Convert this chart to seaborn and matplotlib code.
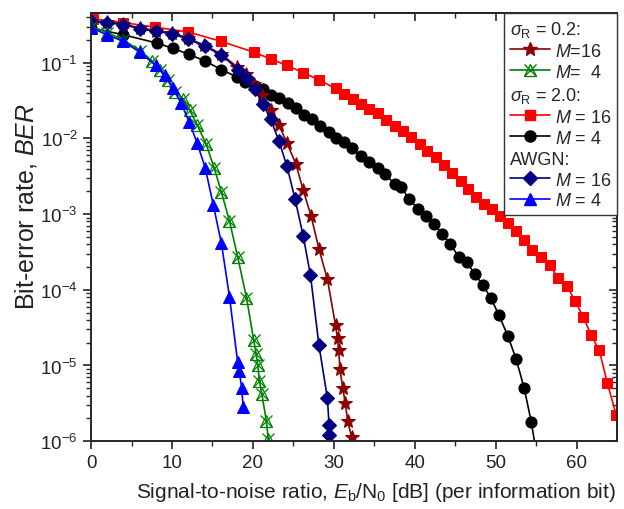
import numpy as np
import matplotlib
matplotlib.use("Agg")
import matplotlib.pyplot as plt
import seaborn as sns
from matplotlib.lines import Line2D

# BER curves (x = Eb/N0 in dB)
awgn4_x = [0, 2, 4, 6, 8, 9.1, 10.1, 11.1, 12.1, 13.1, 14.1, 15.1, 16.1, 17.1, 18.1, 18.3, 18.6, 18.8]
awgn4_y = [0.288, 0.234, 0.191, 0.138, 0.092, 0.068, 0.046, 0.0295, 0.0167, 8.7e-3, 4.1e-3,
           1.32e-3, 4.1e-4, 8.1e-5, 1.12e-5, 8.5e-6, 5.1e-6, 2.8e-6]

s02_m4_x = [0, 2, 4, 6, 7.5, 8.5, 9.5, 10.4, 11.4, 12.2, 13.1, 14.2, 15.2, 16.1, 17.1, 18.1,
            19.2, 20.1, 20.4, 20.6, 20.8, 21.1, 21.65, 21.9]
s02_m4_y = [0.30, 0.25, 0.20, 0.145, 0.105, 0.079, 0.059, 0.041, 0.033, 0.0234, 0.0151, 8.5e-3,
            4.1e-3, 1.95e-3, 8.1e-4, 2.75e-4, 7.9e-5, 2.14e-5, 1.41e-5, 1.0e-5, 6.2e-6, 4.2e-6,
            1.86e-6, 1.07e-6]

awgn16_x = [0, 2, 4, 6, 8, 10, 12, 14.1, 16.1, 18.2, 19.3, 20.2, 21.2, 22.2, 23.2, 24.2, 25.2,
            26.2, 27.1, 28.15, 29.2, 29.4, 29.45]
awgn16_y = [0.352, 0.338, 0.318, 0.282, 0.259, 0.242, 0.204, 0.164, 0.126, 0.081, 0.062, 0.0447,
            0.0288, 0.0178, 9.3e-3, 4.3e-3, 1.58e-3, 5.2e-4, 1.58e-4, 1.86e-5, 3.7e-6, 1.66e-6, 1.2e-6]

s02_m16_x = [0, 2, 4, 6, 8, 10, 12, 14, 16, 18, 19.1, 20.1, 21.1, 22.2, 23.2, 24.2, 25.3, 26.2,
             27.2, 28.15, 29.2, 30.2, 30.45, 30.6, 30.75, 31.1, 31.4, 31.7, 32.2]
s02_m16_y = [0.355, 0.343, 0.324, 0.288, 0.266, 0.248, 0.211, 0.170, 0.132, 0.089, 0.071, 0.0525,
             0.0372, 0.024, 0.0151, 8.7e-3, 4.6e-3, 2.09e-3, 9.3e-4, 3.47e-4, 1.38e-4, 3.4e-5,
             2.3e-5, 1.58e-5, 8.9e-6, 5.0e-6, 3.2e-6, 1.86e-6, 1.12e-6]

s20_m4_x = [0, 4, 8.1, 10.1, 12.1, 14.1, 16.1, 18.0, 19.05, 20.2, 21.2, 22.2, 23.2, 24.3, 25.3,
            26.3, 27.3, 28.3, 29.4, 30.3, 31.3, 32.2, 33.3, 34.4, 35.4, 36.3, 37.5, 38.3, 39.3,
            40.4, 41.4, 42.4, 43.4, 44.4, 45.4, 46.4, 47.4, 48.4, 49.4, 50.4, 51.5, 52.5, 53.5,
            54.4, 55.3]
s20_m4_y = [0.288, 0.234, 0.182, 0.155, 0.129, 0.105, 0.081, 0.065, 0.0556, 0.049, 0.0447, 0.038,
            0.0339, 0.0295, 0.0251, 0.0204, 0.0178, 0.0148, 0.012, 0.01, 8.9e-3, 7.4e-3, 5.9e-3,
            4.9e-3, 4.1e-3, 3.4e-3, 2.5e-3, 2.29e-3, 1.58e-3, 1.17e-3, 9.5e-4, 7.4e-4, 5.4e-4,
            4.0e-4, 2.75e-4, 2.34e-4, 1.62e-4, 1.15e-4, 7.8e-5, 4.6e-5, 2.45e-5, 1.23e-5, 5.1e-6,
            1.78e-6, 4.5e-7]

s20_m16_x = [0.2, 4, 7.9, 12, 16.1, 20.1, 22.2, 24.2, 26.2, 28.2, 30.2, 31.2, 32.3, 33.3, 34.4,
             35.4, 36.4, 37.5, 38.5, 39.5, 40.6, 41.5, 42.6, 43.6, 44.6, 45.7, 46.6, 47.6, 48.6,
             49.5, 50.5, 51.5, 52.5, 53.5, 54.5, 55.6, 56.7, 57.7, 58.8, 59.8, 60.8, 61.8, 62.8,
             63.8, 64.9, 65.9]
s20_m16_y = [0.382, 0.339, 0.295, 0.255, 0.191, 0.138, 0.112, 0.092, 0.074, 0.059, 0.0457, 0.0389,
             0.0331, 0.0288, 0.0245, 0.0214, 0.0174, 0.0148, 0.0126, 0.0105, 8.5e-3, 6.9e-3,
             5.6e-3, 4.4e-3, 3.5e-3, 2.75e-3, 2.14e-3, 1.66e-3, 1.35e-3, 1.17e-3, 9.5e-4, 7.6e-4,
             5.9e-4, 4.5e-4, 3.4e-4, 2.7e-4, 2.14e-4, 1.41e-4, 1.12e-4, 7.1e-5, 4.4e-5, 2.5e-5,
             1.58e-5, 5.8e-6, 2.2e-6, 6e-7]

sns.set_style("ticks")
plt.rcParams["font.family"] = ["Liberation Sans", "DejaVu Sans"]
plt.rcParams["mathtext.fontset"] = "custom"
plt.rcParams["mathtext.rm"] = "Liberation Sans"
plt.rcParams["mathtext.it"] = "Liberation Sans:italic"
plt.rcParams["axes.linewidth"] = 1.4

fig = plt.figure(figsize=(6.24, 5.10), dpi=100)
ax = fig.add_axes([0.146, 0.133, 0.843, 0.839])

common = dict(ax=ax, estimator=None, sort=False, legend=False, linewidth=1.2)

sns.lineplot(x=s20_m16_x, y=s20_m16_y, color="#ff0000", marker="s", markersize=7,
             markeredgecolor="#ff0000", **common)
sns.lineplot(x=s20_m4_x, y=s20_m4_y, color="black", marker="o", markersize=8,
             markeredgecolor="black", **common)
sns.lineplot(x=s02_m16_x, y=s02_m16_y, color="#8b0000", marker="*", markersize=10.5,
             markeredgecolor="#8b0000", **common)
sns.lineplot(x=awgn16_x, y=awgn16_y, color="#000080", marker="D", markersize=7,
             markeredgecolor="#000080", **common)
sns.lineplot(x=s02_m4_x, y=s02_m4_y, color="#008000", marker="^", markersize=8.5,
             markerfacecolor="none", markeredgecolor="#008000", markeredgewidth=0.9, **common)
ax.plot(s02_m4_x, s02_m4_y, linestyle="none", marker="x", markersize=9,
        markeredgecolor="#008000", markeredgewidth=0.9)
sns.lineplot(x=awgn4_x, y=awgn4_y, color="#0000ff", marker="^", markersize=8.5,
             markeredgecolor="#0000ff", **common)

ax.set_yscale("log")
ax.set_xlim(0, 65)
ax.set_ylim(1e-6, 0.45)
ax.set_xticks([0, 10, 20, 30, 40, 50, 60])
ax.set_xticks(np.arange(5, 65, 10), minor=True)
ax.set_yticks([1e-6, 1e-5, 1e-4, 1e-3, 1e-2, 1e-1])
ax.set_yticklabels(["$10^{-6}$", "$10^{-5}$", "$10^{-4}$", "$10^{-3}$", "$10^{-2}$", "$10^{-1}$"])
ax.tick_params(axis="both", which="major", labelsize=13.5, length=6, width=1.2, direction="out",
               colors="#222222")
ax.tick_params(axis="both", which="minor", length=3.5, width=1.0, direction="out")

# mirrored ticks on top and right, pointing inward
top = ax.secondary_xaxis("top")
top.set_xticks([0, 10, 20, 30, 40, 50, 60])
top.set_xticks(np.arange(5, 65, 10), minor=True)
top.tick_params(which="major", direction="in", length=6, width=1.2, labeltop=False)
top.tick_params(which="minor", direction="in", length=3.5, width=1.0)
right = ax.secondary_yaxis("right")
right.tick_params(which="major", direction="in", length=6, width=1.2, labelright=False)
right.tick_params(which="minor", direction="in", length=3.5, width=1.0)

ax.set_xlabel(r"Signal-to-noise ratio, $E_{\rm b}$/N$_0$ [dB] (per information bit)",
              fontsize=15, color="#222222", labelpad=6)
ax.set_ylabel(r"Bit-error rate, $BER$", fontsize=18, color="#222222", labelpad=1)
ax.xaxis.label.set_x(0.542)
ax.yaxis.label.set_y(0.55)

blank = Line2D([], [], linestyle="none")
h_star = Line2D([], [], color="#8b0000", marker="*", markersize=10.5, linewidth=1.2)
h_green = (Line2D([], [], color="#008000", marker="^", markersize=8.5, markerfacecolor="none",
                  linewidth=1.2),
           Line2D([], [], color="#008000", marker="x", markersize=9, linestyle="none"))
h_sq = Line2D([], [], color="#ff0000", marker="s", markersize=7, linewidth=1.2)
h_circ = Line2D([], [], color="black", marker="o", markersize=8, linewidth=1.2)
h_diam = Line2D([], [], color="#000080", marker="D", markersize=7, linewidth=1.2)
h_tri = Line2D([], [], color="#0000ff", marker="^", markersize=8.5, linewidth=1.2)

handles = [blank, h_star, h_green, blank, h_sq, h_circ, blank, h_diam, h_tri]
labels = [r"$\sigma_{\rm R}$ = 0.2:", "$M$=16", "$M$=  4",
          r"$\sigma_{\rm R}$ = 2.0:", "$M$ = 16", "$M$ = 4",
          "AWGN:", "$M$ = 16", "$M$ = 4"]
leg = ax.legend(handles, labels, loc="upper right", bbox_to_anchor=(1.0, 1.0), borderaxespad=0,
                fontsize=13, handlelength=2.2, handletextpad=0.3, labelspacing=0.22,
                borderpad=0.3, fancybox=False, frameon=True, framealpha=1)
leg.get_frame().set_edgecolor("#333333")
leg.get_frame().set_linewidth(1.0)

# push the group titles to the left edge of the legend
headers = {0, 3, 6}
rows = leg._legend_handle_box.get_children()[0].get_children()
for i, row in enumerate(rows):
    if i in headers:
        row.get_children()[0].set_width(0)
        row.sep = 0

fig.savefig("out.png", dpi=100)
